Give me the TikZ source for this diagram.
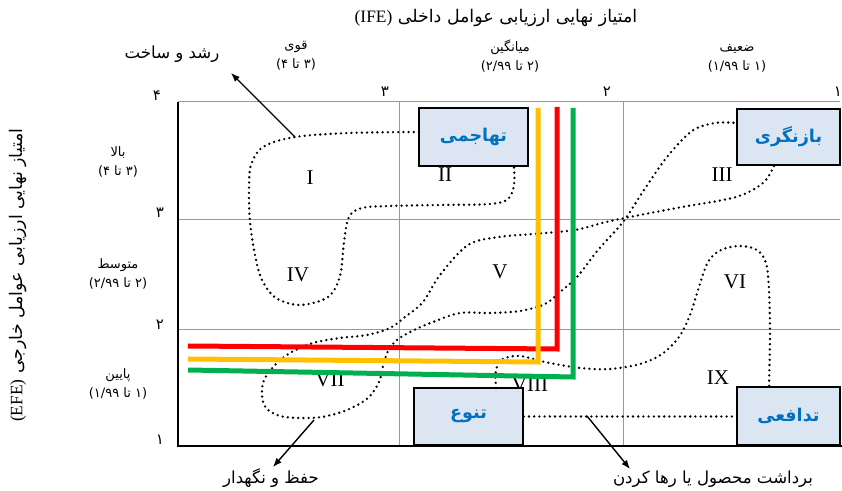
\documentclass[tikz,border=0pt]{standalone}
\usepackage{fontspec}
\setmainfont{Liberation Serif}
\newfontfamily\fafont[Script=Arabic]{DejaVu Sans}
\TeXXeTstate=1
\usetikzlibrary{arrows.meta}
\definecolor{boxFill}{HTML}{DCE6F2}
\definecolor{boxText}{HTML}{0070C0}
\definecolor{mRed}{HTML}{FF0000}
\definecolor{mOrange}{HTML}{FFC000}
\definecolor{mGreen}{HTML}{00B050}
\newcommand{\fatext}[1]{{\fafont\beginR #1\endR}}

\begin{document}
\begin{tikzpicture}[x=0.5pt, y=-0.5pt,
    lbl/.style={font=\fontsize{6.5}{9.5}\selectfont, align=center, inner sep=0pt},
    big/.style={font=\fontsize{8.3}{9}\selectfont, inner sep=0pt},
    tick/.style={font=\fafont\fontsize{7.5}{8}\selectfont, inner sep=0pt},
    cell/.style={font=\fontsize{10.5}{10.5}\selectfont, inner sep=0pt},
    strat/.style={draw, line width=0.8pt, fill=boxFill, text=boxText,
                  font=\fafont\bfseries\fontsize{8.8}{8.8}\selectfont, inner sep=0pt},
    zone/.style={line width=1.3pt, dash pattern=on 0pt off 2.6pt, line cap=round},
    gline/.style={draw=gray!80, line width=0.5pt},
    track/.style={line width=2.5pt},
    pointer/.style={-{Latex[length=4.5pt,width=3.5pt]}, line width=0.7pt}
]
    \useasboundingbox (0,0) rectangle (842,491);

    % titles
    \node[big, font=\fontsize{8.7}{9}\selectfont] (ifeTitle) at (496,18) {\fatext{امتیاز نهایی ارزیابی عوامل داخلی \beginL{\rmfamily (IFE)}\endL}};
    \node[big, font=\fontsize{8.7}{9}\selectfont, rotate=90] (efeTitle) at (18,275) {\fatext{امتیاز نهایی ارزیابی عوامل خارجی \beginL{\rmfamily (EFE)}\endL}};

    % column and row headings
    \node[lbl] (colS) at (296,56) {\fatext{قوی}\\\fatext{(۳ تا ۴)}};
    \node[lbl] (colM) at (510,56) {\fatext{میانگین}\\\fatext{(۲ تا ۲/۹۹)}};
    \node[lbl] (colW) at (737,58) {\fatext{ضعیف}\\\fatext{(۱ تا ۱/۹۹)}};
    \node[lbl] (rowH) at (118,162) {\fatext{بالا}\\\fatext{(۳ تا ۴)}};
    \node[lbl] (rowM) at (118,274) {\fatext{متوسط}\\\fatext{(۲ تا ۲/۹۹)}};
    \node[lbl] (rowL) at (118,384) {\fatext{پایین}\\\fatext{(۱ تا ۱/۹۹)}};

    % scale numbers
    \foreach \x/\y/\d [count=\i] in {157/96/۴, 385/92/۳, 607/92/۲, 838/92/۱,
                                     160/213/۳, 160/325/۲, 160/440/۱}
        \node[tick] (t\i) at (\x,\y) {\d};

    % grid
    \draw[gline] (178,102) -- (840,102);
    \draw[gline] (178,220) -- (840,220);
    \draw[gline] (178,330) -- (840,330);
    \draw[gline] (399,102) -- (399,446);
    \draw[gline] (623,102) -- (623,446);
    \draw[line width=1.3pt] (178,102) -- (178,446) -- (842,446);

    % cells
    \foreach \x/\y/\r [count=\i] in {310/178/I, 445/175/II, 722/175/III,
                                     298/275/IV, 500/272/V, 735/282/VI,
                                     330/380/VII, 530/385/VIII, 718/378/IX}
        \node[cell] (c\i) at (\x,\y) {\r};

    % strategy boxes
    \node[strat, minimum width=54.5pt, minimum height=29pt] (att) at (473.5,137) {\beginR تهاجمی\endR};
    \node[strat, minimum width=51.5pt, minimum height=28pt] (rev) at (788.5,137) {\beginR بازنگری\endR};
    \node[strat, minimum width=54.5pt, minimum height=28.5pt] (div) at (468.5,416.5) {\beginR تنوع\endR};
    \node[strat, minimum width=51.5pt, minimum height=29pt] (dfn) at (788.5,416) {\beginR تدافعی\endR};

    % zones
    \draw[zone] plot[smooth, tension=0.55] coordinates {(419,132) (350,133) (295,137) (263,147) (251,165)
        (249,190) (250,222) (255,255) (262,280) (276,298) (300,305) (328,297) (340,276) (344,242)
        (349,217) (362,208) (390,206) (440,205) (490,204) (508,199) (514,185) (514,167)};
    \draw[zone] plot[smooth, tension=0.55] coordinates {(774,166) (763,183) (736,197) (682,207) (640,215)
        (606,222) (575,230) (533,234) (499,237) (468,245) (440,275) (423,302) (405,317) (390,328)
        (367,335) (340,338) (313,343) (290,353) (275,365) (264,380) (262,395) (266,408) (280,416)
        (300,418) (322,417) (347,410) (368,398) (379,382) (383,366) (388,351) (397,340) (412,331)
        (433,322) (460,313) (490,313) (520,311) (545,304) (560,292) (577,277) (598,250) (623,222)
        (644,190) (667,157) (692,131) (715,123) (737,123)};
    \draw[zone] plot[smooth, tension=0.55] coordinates {(496,388) (496,370) (503,359) (520,356) (545,362)
        (580,368) (610,369) (640,364) (662,354) (679,337) (690,315) (698,290) (708,262) (721,250)
        (740,246) (757,250) (766,263) (769,290) (770,335) (769,386)};
    \draw[zone] (div.east) -- (div.east -| dfn.west);

    % marker lines
    \draw[track, mRed] (188,346) -- (557,349) -- (557,107);
    \draw[track, mOrange] (188,359) -- (538,362) -- (538,108);
    \draw[track, mGreen] (188,370) -- (573,377) -- (573,108);

    % pointers
    \node[big] (grow) at (172,54) {\fatext{رشد و ساخت}};
    \node[big] (hold) at (271,478) {\fatext{حفظ و نگهدار}};
    \node[big] (harv) at (713,479) {\fatext{برداشت محصول یا رها کردن}};
    \coordinate (growPt) at (295,137);
    \coordinate (growTip) at (231,73);
    \coordinate (holdPt) at (314,420);
    \coordinate (holdTip) at (273,467);
    \coordinate (harvPt) at (587,416);
    \coordinate (harvTip) at (630,469);
    \draw[pointer] (growPt) -- (growTip);
    \draw[pointer] (holdPt) -- (holdTip);
    \draw[pointer] (harvPt) -- (harvTip);
\end{tikzpicture}
\end{document}
